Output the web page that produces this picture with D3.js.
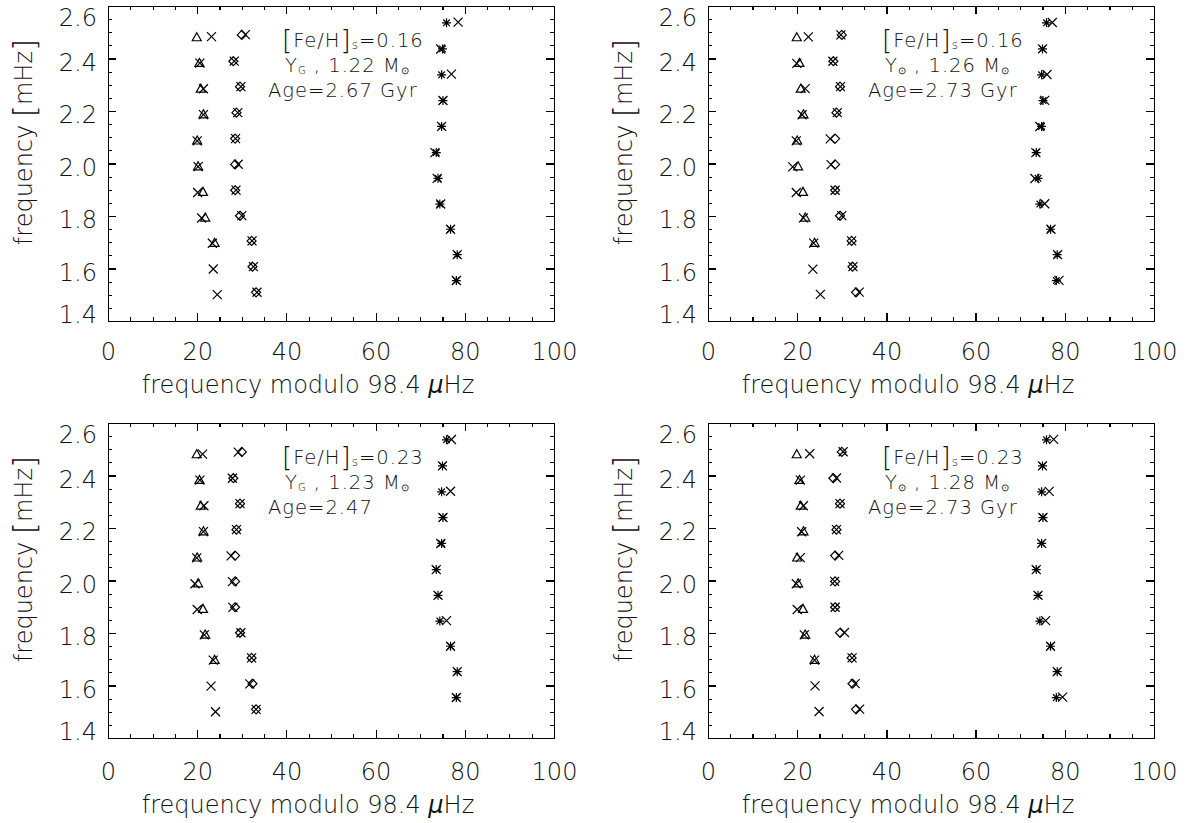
<!DOCTYPE html>
<html>
<head>
<meta charset="utf-8">
<script src="https://cdn.jsdelivr.net/npm/d3@7"></script>
<style>
  body { margin: 0; background: #fff; }
  svg { font-family: "DejaVu Sans", sans-serif; font-weight: 200; }
  .axis path, .axis line { stroke: #000; stroke-width: 1.2; shape-rendering: crispEdges; }
  .axis text { font-size: 24px; fill: #111; font-family: "DejaVu Sans", sans-serif; }
  .title { font-size: 24px; fill: #111; }
  .note { font-size: 19.5px; fill: #111; letter-spacing: 1px; }
</style>
</head>
<body>
<svg id="chart" width="1188" height="823"></svg>
<script>
// large frequency separation used for the echelle (µHz)
const dnu = 98.4;
const xTicks = [0, 20, 40, 60, 80, 100];
const yTicks = [1.4, 1.6, 1.8, 2.0, 2.2, 2.4, 2.6];

// observed frequencies (µHz), same in every panel
const obsL0 = [2479.9, 2382.1, 2284.0, 2186.2, 2086.4, 1988.2, 1890.9, 1793.0, 1696.7];
const obsL2 = [2490.0, 2389.7, 2292.8, 2193.6, 2094.9, 1996.5, 1898.1, 1800.8, 1705.0, 1606.8, 1509.2];
const obsL1 = [2535.9, 2436.6, 2338.0, 2239.9, 2141.2, 2041.6, 1943.6, 1845.6, 1749.6, 1652.7, 1554.1];

// model frequencies (µHz), one row per panel
const modL0 = [
  [2483.2, 2382.2, 2284.6, 2186.2, 2086.4, 1988.2, 1889.7, 1792.2, 1696.2, 1598.0, 1500.5],
  [2482.5, 2381.5, 2285.0, 2185.9, 2086.2, 1987.0, 1889.4, 1792.6, 1696.5, 1597.9, 1501.2],
  [2481.2, 2382.2, 2284.7, 2186.2, 2086.3, 1987.5, 1889.6, 1792.8, 1696.4, 1597.5, 1500.1],
  [2482.8, 2382.3, 2284.6, 2185.8, 2087.1, 1987.8, 1889.6, 1792.8, 1696.7, 1598.4, 1500.9]
];
const modL2 = [
  [2490.8, 2389.9, 2293.0, 2193.9, 2095.0, 1997.2, 1898.3, 1801.2, 1705.1, 1607.0, 1509.4],
  [2489.8, 2389.6, 2292.9, 2193.8, 2093.8, 1995.6, 1898.1, 1801.2, 1705.0, 1606.9, 1509.9],
  [2489.2, 2389.5, 2292.8, 2193.6, 2094.0, 1995.9, 1897.6, 1801.0, 1705.0, 1606.2, 1509.2],
  [2490.3, 2390.4, 2292.8, 2193.6, 2095.7, 1996.4, 1898.1, 1801.8, 1705.1, 1607.4, 1510.0]
];
const modL1 = [
  [2538.5, 2436.2, 2340.2, 2239.9, 2141.2, 2041.3, 1943.4, 1845.8, 1749.6, 1652.7, 1554.1],
  [2537.2, 2436.6, 2339.2, 2240.3, 2140.8, 2041.5, 1942.9, 1846.7, 1749.7, 1652.8, 1554.7],
  [2537.0, 2436.6, 2340.0, 2239.9, 2141.0, 2041.6, 1943.6, 1847.1, 1749.6, 1652.7, 1554.1],
  [2537.5, 2436.6, 2339.7, 2239.9, 2141.2, 2041.6, 1943.6, 1846.9, 1749.6, 1652.7, 1555.5]
];

const feh = ['0.16', '0.16', '0.23', '0.23'];
const helium = ['G', '\u2299', 'G', '\u2299'];
const mass = ['1.22', '1.26', '1.23', '1.28'];
const ages = ['2.67 Gyr', '2.73 Gyr', '2.47', '2.73 Gyr'];

const svg = d3.select('#chart');
const W = 446, H = 315;
const panelLeft = [108, 708, 108, 708];
const panelTop = [6, 6, 423, 423];

const x = d3.scaleLinear().domain([0, 100]).range([0, W]);
const y = d3.scaleLinear().domain([1.4, 2.6]).range([H, 0]);

const shapes = {
  cross: 'M-4.5,-4.5L4.5,4.5M-4.5,4.5L4.5,-4.5',
  triangle: 'M0,-4.8L4.5,3.2L-4.5,3.2Z',
  diamond: 'M0,-4.5L4.5,0L0,4.5L-4.5,0Z',
  asterisk: 'M0,-4.5L0,4.5M-4.5,0L4.5,0M-3.3,-3.3L3.3,3.3M-3.3,3.3L3.3,-3.3'
};

function drawSet(g, freqs, shape) {
  g.append('g').selectAll('path').data(freqs).join('path')
    .attr('transform', f => `translate(${x(f % dnu)},${y(f / 1000)})`)
    .attr('d', shapes[shape])
    .attr('fill', 'none').attr('stroke', '#000').attr('stroke-width', 1.2);
}

function drawPanel(i) {
  const g = svg.append('g').attr('transform', `translate(${panelLeft[i]},${panelTop[i]})`);
  const lower = i > 1 ? 3 : 0; // bottom row labels sit a little lower

  // axes: major + minor ticks on all four sides, pointing inward
  const minorX = d3.range(0, 101, 5);
  const minorY = d3.range(1.4, 2.6001, 0.05);
  g.append('g').attr('class', 'axis').attr('transform', `translate(0,${H})`)
    .call(d3.axisBottom(x).tickValues(minorX).tickSize(-4).tickSizeOuter(0).tickFormat(''));
  g.append('g').attr('class', 'axis').attr('transform', `translate(0,${H})`)
    .call(d3.axisBottom(x).tickValues(xTicks).tickSize(-8).tickSizeOuter(0).tickPadding(22 + lower).tickFormat(d3.format('d')));
  g.append('g').attr('class', 'axis')
    .call(d3.axisTop(x).tickValues(minorX).tickSize(-4).tickSizeOuter(0).tickFormat(''));
  g.append('g').attr('class', 'axis')
    .call(d3.axisTop(x).tickValues(xTicks).tickSize(-8).tickSizeOuter(0).tickFormat(''));
  g.append('g').attr('class', 'axis')
    .call(d3.axisLeft(y).tickValues(minorY).tickSize(-4).tickSizeOuter(0).tickFormat(''));
  const yAx = g.append('g').attr('class', 'axis')
    .call(d3.axisLeft(y).tickValues(yTicks).tickSize(-8).tickSizeOuter(0).tickPadding(11).tickFormat(d3.format('.1f')));
  yAx.selectAll('text').attr('dy', d => d === 2.6 ? '0.8em' : d === 1.4 ? '0.05em' : '0.48em');
  g.append('g').attr('class', 'axis').attr('transform', `translate(${W},0)`)
    .call(d3.axisRight(y).tickValues(minorY).tickSize(-4).tickSizeOuter(0).tickFormat(''));
  g.append('g').attr('class', 'axis').attr('transform', `translate(${W},0)`)
    .call(d3.axisRight(y).tickValues(yTicks).tickSize(-8).tickSizeOuter(0).tickFormat(''));

  // axis titles
  const xt = g.append('text').attr('class', 'title')
    .attr('x', 200).attr('y', H + 72 + lower).attr('text-anchor', 'middle');
  xt.append('tspan').text('frequency modulo 98.4 ');
  xt.append('tspan').attr('font-style', 'italic').text('\u03bc');
  xt.append('tspan').text('Hz');

  const yt = g.append('text').attr('class', 'title')
    .attr('transform', `translate(-76,${136}) rotate(-90)`).attr('text-anchor', 'middle');
  yt.append('tspan').text('frequency ');
  yt.append('tspan').attr('font-size', 31).attr('dy', 3).text('[');
  yt.append('tspan').attr('dy', -3).text('mHz');
  yt.append('tspan').attr('font-size', 31).attr('dy', 3).text(']');

  // annotation
  const t1 = g.append('text').attr('class', 'note').attr('x', 174).attr('y', 41);
  t1.append('tspan').attr('font-size', 26).attr('dy', 2).text('[');
  t1.append('tspan').attr('dy', -2).text('Fe/H');
  t1.append('tspan').attr('font-size', 26).attr('dy', 2).text(']');
  t1.append('tspan').attr('font-size', 12).attr('dy', 0).text('s');
  t1.append('tspan').attr('dy', -2).text('=' + feh[i]);

  const t2 = g.append('text').attr('class', 'note').attr('x', 177).attr('y', 66);
  t2.append('tspan').text('Y');
  t2.append('tspan').attr('font-size', 10).attr('dy', 2).text(helium[i]);
  t2.append('tspan').attr('dy', -2).text(' ,  ' + mass[i] + '  M');
  t2.append('tspan').attr('font-size', 10).attr('dy', 2).text('\u2299');

  g.append('text').attr('class', 'note').attr('x', 160).attr('y', 91).text('Age=' + ages[i]);

  // observed modes
  drawSet(g, obsL0, 'triangle');
  drawSet(g, obsL2, 'diamond');
  drawSet(g, obsL1, 'asterisk');
  // model modes
  drawSet(g, modL0[i], 'cross');
  drawSet(g, modL2[i], 'cross');
  drawSet(g, modL1[i], 'cross');
}

[0, 1, 2, 3].forEach(drawPanel);
</script>
</body>
</html>
